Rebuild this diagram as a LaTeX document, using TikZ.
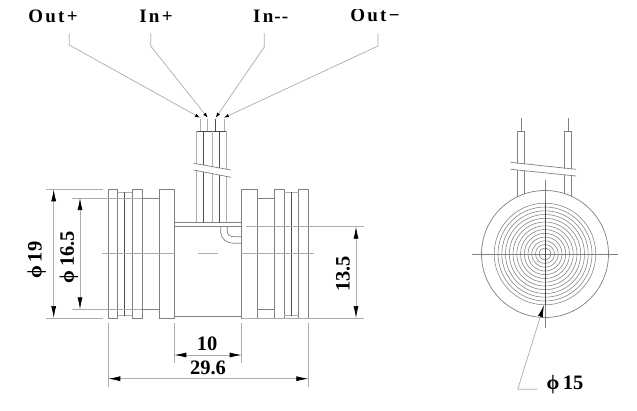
\documentclass[tikz,border=0pt]{standalone}
\usepackage{fontspec}
\setmainfont{Liberation Serif}
\usetikzlibrary{arrows.meta}
\definecolor{ln}{gray}{0.5}
\definecolor{lnl}{gray}{0.68}
\definecolor{lnd}{gray}{0.3}
\tikzset{
 part/.style={draw=ln,line width=0.7pt},
 thin part/.style={draw=lnl,line width=0.7pt},
 dark part/.style={draw=lnd,line width=1pt},
 dimline/.style={draw=lnl,line width=0.7pt},
 dimarrow/.style={draw=lnl,line width=0.7pt,{Latex[length=12pt,width=5pt,color=black]}-{Latex[length=12pt,width=5pt,color=black]}},
 leader/.style={draw=lnl,line width=0.7pt},
 lead tip/.style={-{Latex[length=5pt,width=3.5pt,color=black]}},
 ring/.style={draw=ln,line width=0.55pt},
 lbl/.style={font=\bfseries\fontsize{19}{19}\selectfont,text=black,inner sep=0pt},
 dimtxt/.style={font=\bfseries\fontsize{20.5}{20.5}\selectfont,text=black,inner sep=0pt},
}
\begin{document}
\begin{tikzpicture}[x=1pt,y=-1pt]
\useasboundingbox (0,0) rectangle (637,410);
\fill[white] (0,0) rectangle (637,410);
% coordinates
\coordinate (o1) at (69.3,33.3); \coordinate (o1b) at (69.3,45); \coordinate (o1t) at (200,117.7);
\coordinate (i1) at (150.7,33.3); \coordinate (i1b) at (150.7,46); \coordinate (i1t) at (207.7,117.7);
\coordinate (i2) at (264.3,33.3); \coordinate (i2b) at (264.3,47); \coordinate (i2t) at (215.7,117.7);
\coordinate (o2) at (378,33.3); \coordinate (o2b) at (378,46); \coordinate (o2t) at (224,117.7);
% labels
\node[lbl] (lo1) at (53,16.5) {O\kern2.3pt u\kern2.3pt t\kern2.3pt +};
\node[lbl] (li1) at (156,16.5) {I\kern2.3pt n\kern2.3pt +};
\node[lbl] (li2) at (270.7,16.5) {I\kern2.3pt n\kern1pt -\kern1pt -};
\node[lbl] (lo2) at (375,15) {O\kern2.3pt u\kern2.3pt t\kern2.3pt −};
\fill[white] (345,0) rectangle (410,8.5);
% leaders
\draw[leader,lead tip] (o1)--(o1b)--(o1t);
\draw[leader,lead tip] (i1)--(i1b)--(i1t);
\draw[leader,lead tip] (i2)--(i2b)--(i2t);
\draw[leader,lead tip] (o2)--(o2b)--(o2t);
% wires
\foreach \x/\c in {200/lnl,207.7/lnl,215.7/lnd,224/lnl}{\draw[draw=\c,line width=0.8pt] (\x,119)--(\x,131);}
% tubes
\draw[draw=lnd,line width=0.9pt] (196.7,131)--(226.7,131);
\foreach \x/\c/\w in {196.7/lnl/0.7,203.7/lnd/1,212/lnl/0.7,219.7/lnd/1,226.7/lnl/0.7}{
 \draw[draw=\c,line width=\w pt] (\x,131)--(\x,{163.3+(\x-193.7)*6.7/37.3});
 \draw[draw=\c,line width=\w pt] (\x,{170+(\x-193.7)*7.3/37.3})--(\x,222.7);
}
\draw[part] (193.7,163.3)--(231,170);
\draw[part] (193.7,170)--(231,177.3);
% flanges
\foreach \a/\b in {108.3/117.7,132/142.3,159/174.3,241.7/257.3,274.3/284.3,298.7/308.3}{
 \draw[part] (\a,189.3) rectangle (\b,318);
}
% grooves
\draw[thin part] (117.7,192)--(132,192) (117.7,315.5)--(132,315.5);
\draw[thin part] (284.3,192)--(298.7,192) (284.3,315.5)--(298.7,315.5);
\draw[dark part] (124.7,192)--(124.7,315.5);
\draw[dark part] (291,192)--(291,315.5);
% necks
\draw[part] (142.3,198)--(159,198) (142.3,309.3)--(159,309.3);
\draw[part] (257.3,198)--(274.3,198) (257.3,309.3)--(274.3,309.3);
% body
\draw[part] (174.3,222.7)--(241.7,222.7);
\draw[part] (174.3,226.7)--(241.7,226.7);
\draw[part] (174.3,316.5)--(241.7,316.5);
% elbow
\draw[part] (220.7,226.7)--(220.7,232) .. controls (220.7,239) and (227,243.3) .. (234,243.3)--(241.7,243.3);
\draw[part] (227.3,226.7)--(227.3,231) .. controls (227.3,235) and (230,236.7) .. (234,236.7)--(241.7,236.7);
% centre lines
\draw[dimline] (101.7,253.3)--(175,253.3);
\draw[dimline] (197.7,253.3)--(218,253.3);
\draw[dimline] (240.7,253.3)--(314.3,253.3);
% dim phi19
\draw[dimline] (46,189.3)--(103,189.3) (46,318)--(103,318);
\draw[dimarrow] (53.7,189.3)--(53.7,318);
\node[dimtxt,rotate=90] (d19) at (36.7,260) {ϕ\,19};
% dim phi16.5
\draw[dimline] (72,198)--(142.3,198) (72,309.3)--(142.3,309.3);
\draw[dimarrow] (80,198)--(80,309.3);
\node[dimtxt,rotate=90] (d165) at (69,257) {ϕ\,16.5};
% dim 13.5
\draw[dimline] (246,226.7)--(364,226.7) (241.7,318)--(364,318);
\draw[dimarrow] (356,226.7)--(356,318);
\node[dimtxt,rotate=90] (d135) at (343,274) {13.5};
% dim 10
\draw[dimline] (174.3,323)--(174.3,363) (241.7,323)--(241.7,363);
\draw[dimarrow] (174.3,355)--(241.7,355);
\node[dimtxt] (d10) at (207,344) {10};
% dim 29.6
\draw[dimline] (108.3,323)--(108.3,386.7) (308.3,323)--(308.3,386.7);
\draw[dimarrow] (108.3,378.7)--(308.3,378.7);
\node[dimtxt] (d296) at (208,368) {29.6};
% right view
\coordinate (c) at (545,254);
\draw[part] (c) circle (63.5);
\foreach \r in {5.8,9.5,13.2,17,20.7,24.5,28.2,32,35.7,39.5,43.2,47,50.8}{\draw[ring] (c) circle (\r);}
\draw[part] (472.3,254)--(618.3,254);
\draw[part] (545,180)--(545,203);
\draw[dark part] (545,203)--(545,305);
\draw[part] (545,305)--(545,328.3);
\draw[part] (517.7,196.7)--(517.7,131.3)--(524,131.3)--(524,194);
\draw[part] (564.7,193.6)--(564.7,131.3)--(571,131.3)--(571,196);
\draw[part] (521,118)--(521,131.3) (568,118)--(568,131.3);
\fill[white] (510.7,162.8) -- (576,169.8) -- (576,176) -- (510.7,169.3) -- cycle;
\draw[part] (510.7,162.3)--(576,169.3);
\draw[part] (510.7,169.3)--(576,176);
\coordinate (ltip) at (544,305);
\coordinate (lknee) at (517.7,389.3);
\coordinate (lend) at (537.3,389.3);
\draw[leader,-{Latex[length=12pt,width=5pt,color=black]}] (lend)--(lknee)--(ltip);
\node[dimtxt] (d15) at (565,385) {ϕ\,15};
\end{tikzpicture}
\end{document}
